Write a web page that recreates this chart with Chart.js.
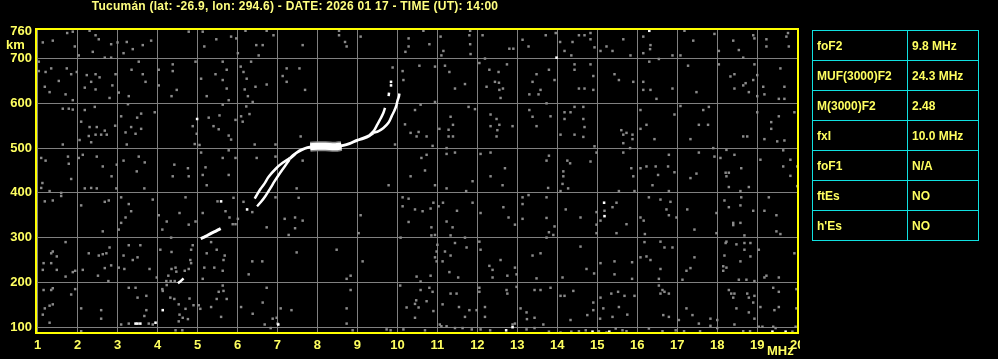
<!DOCTYPE html>
<html>
<head>
<meta charset="utf-8">
<script src="https://cdn.jsdelivr.net/npm/chart.js@4"></script>
<style>
  html, body { margin: 0; padding: 0; background: #000; }
  #wrap { position: relative; width: 998px; height: 359px; overflow: hidden; }
  #title { position: absolute; left: 0; top: -1px; width: 590px; text-align: center;
           font: bold 12px "Liberation Sans", Arial, sans-serif; color: #ffff80; letter-spacing: 0.25px; }
  #km { position: absolute; left: 6px; top: 37px; font: bold 13px "Liberation Sans", Arial, sans-serif; color: #ffff60; }
  #mhz { position: absolute; left: 767px; top: 343px; font: bold 13px "Liberation Sans", Arial, sans-serif; color: #ffff60; }
  #params { position: absolute; left: 812px; top: 30px; border-collapse: collapse; }
  #params td { border: 1px solid #10e0e0; height: 29px; padding: 0 0 0 4px;
               font: bold 12px "Liberation Sans", Arial, sans-serif; color: #ffff60; }
  #params td.k { width: 90px; }
  #params td.v { width: 66px; }
</style>
</head>
<body>
<div id="wrap">
  <canvas id="ionogram" width="998" height="359"></canvas>
  <div id="title">Tucumán (lat: -26.9, lon: 294.6) - DATE: 2026 01 17 - TIME (UT): 14:00</div>
  <div id="km">km</div>
  <div id="mhz">MHz</div>
  <table id="params"></table>
</div>
<script>
// ===============================
// DATA
// ===============================
const xTicks = [1, 2, 3, 4, 5, 6, 7, 8, 9, 10, 11, 12, 13, 14, 15, 16, 17, 18, 19, 20];
const yTicks = [100, 200, 300, 400, 500, 600, 700, 760];

const paramNames = ["foF2", "MUF(3000)F2", "M(3000)F2", "fxI", "foF1", "ftEs", "h'Es"];
const paramValues = ["9.8 MHz", "24.3 MHz", "2.48", "10.0 MHz", "N/A", "NO", "NO"];

// echo trace (MHz, km)
const traceLow = [[4.51, 198], [4.58, 203], [4.65, 209]];
const traceE = [[5.08, 298], [5.2, 303], [5.35, 310], [5.47, 315], [5.58, 320]];
const traceOA = [[6.43, 387], [6.57, 408], [6.67, 420], [6.78, 436], [6.97, 455], [7.13, 467], [7.3, 477]];
const traceOB = [[6.49, 370], [6.59, 380], [6.7, 393], [6.82, 410], [6.92, 425], [7.03, 440], [7.18, 459], [7.3, 474]];
const traceF = [[7.3, 476], [7.4, 484], [7.5, 491], [7.6, 496], [7.75, 501], [7.9, 503], [8.1, 504], [8.3, 504],
  [8.5, 504], [8.65, 506], [8.8, 510], [8.98, 517], [9.15, 522], [9.3, 528], [9.4, 534]];
const traceBlob = [[7.82, 503], [8.0, 504], [8.2, 504], [8.45, 503], [8.6, 505]];
const traceUpL = [[9.32, 530], [9.42, 540], [9.5, 553], [9.58, 566], [9.65, 579], [9.69, 590]];
const traceUpLTop = [[9.78, 616], [9.79, 624]];
const traceUpR = [[9.4, 534], [9.53, 538], [9.65, 545], [9.78, 557], [9.86, 572], [9.92, 583], [9.97, 594],
  [10.0, 605], [10.04, 616], [10.05, 622]];

const whiteDots = [[4.99, 565], [5.59, 381], [6.24, 363], [3.45, 108], [3.5, 108], [3.57, 108], [3.95, 110],
  [4.13, 138], [7.02, 106], [13.98, 702], [16.3, 762], [15.17, 378], [15.18, 348], [9.84, 640], [9.84, 648],
  [12.72, 93], [12.88, 100], [14.88, 90], [15.3, 90], [19.38, 90], [19.71, 90]];

// background noise, 1-7.3 MHz
const noiseLowF = [
  [1.74,757],[1.88,760],[1.13,736],[1.38,740],[1.93,727],[2.3,762],[2.45,752],[2.53,743],[2.38,715],[2.03,707],
  [2.84,732],[3.0,736],[3.23,737],[3.38,721],[3.15,712],[3.63,730],[3.84,740],[4.78,760],[5.13,760],[5.17,727],
  [5.47,743],[5.84,749],[5.97,745],[6.01,712],[6.2,762],[6.47,730],[6.63,730],[6.53,707],[6.73,762],[6.9,752],
  [2.68,702],[2.84,702],[1.03,693],[1.03,672],[1.2,670],[1.34,678],[1.73,678],[1.84,665],[1.98,670],[1.53,650],
  [1.18,637],[1.3,625],[1.7,620],[1.88,607],[2.23,663],[2.34,648],[2.45,665],[2.55,658],[2.18,635],[2.45,631],
  [2.87,640],[2.95,665],[2.8,612],[3.03,624],[3.35,675],[3.63,665],[3.7,648],[3.28,616],[3.53,693],[4.03,675],
  [4.03,640],[4.38,687],[4.38,672],[4.48,630],[4.35,616],[4.95,693],[5.09,655],[5.23,616],[5.45,665],[5.63,693],
  [5.73,675],[5.63,652],[5.73,633],[5.78,607],[6.08,682],[6.15,670],[6.23,655],[6.34,693],[6.45,637],[6.73,642],
  [6.18,631],[6.26,616],[6.38,603],[7.23,678],[7.23,648],[7.13,661],
  [1.63,588],[1.78,588],[1.88,586],[2.18,585],[2.43,592],[2.09,559],[2.3,547],[2.48,547],[2.68,539],[2.94,550],
  [2.28,527],[2.45,530],[2.59,530],[2.73,530],[2.05,518],[2.34,513],[3.09,571],[3.26,598],[3.49,568],[3.59,577],
  [3.34,547],[3.59,543],[3.2,535],[3.45,532],[3.23,508],[3.93,580],[4.88,549],[4.98,532],[5.28,568],[5.55,573],
  [5.4,549],[5.53,542],[5.78,528],[5.63,597],[5.95,563],[5.84,519],[6.09,571],[6.13,559],[6.3,576],[6.22,593],
  [6.43,508],[6.95,508],[4.93,509],[5.05,507],[1.63,508],
  [1.09,478],[1.2,472],[1.76,481],[1.78,465],[2.03,478],[2.13,485],[2.48,481],[2.63,459],[2.98,463],[3.15,472],
  [3.53,481],[3.68,468],[3.48,448],[2.85,437],[1.84,431],[4.42,463],[4.76,455],[4.38,437],[4.78,437],[5.09,490],
  [5.2,457],[5.13,440],[5.63,478],[5.95,478],[5.78,440],[5.78,495],[6.48,478],[6.95,481],
  [1.59,400],[1.59,393],[1.38,383],[1.18,381],[2.09,372],[2.18,410],[2.34,411],[2.48,410],[2.97,410],[2.68,380],
  [2.78,383],[3.09,390],[3.28,375],[3.2,345],[3.09,333],[3.03,318],[2.63,314],[3.34,359],[3.67,410],[3.88,385],
  [4.03,350],[4.12,318],[4.23,336],[4.34,300],[4.55,355],[4.7,390],[4.78,329],[4.95,336],[5.13,355],[5.23,417],
  [5.5,381],[5.7,359],[5.8,345],[5.88,330],[5.95,330],[5.9,389],[6.01,342],[6.15,380],[6.37,357],[6.73,323],
  [6.95,390],[7.18,342],[7.28,306],[1.12,422],[1.3,404],[1.09,411],
  [1.15,243],[1.34,265],[1.38,269],[1.48,258],[1.34,243],[1.13,228],[1.48,228],[1.7,290],[1.7,213],[1.88,223],
  [1.94,226],[2.28,265],[2.53,260],[2.63,263],[2.72,265],[2.8,278],[2.84,238],[2.68,232],[2.51,215],[2.77,203],
  [2.13,228],[3.03,233],[3.17,230],[3.15,260],[3.38,250],[3.5,256],[3.28,283],[3.57,283],[3.8,230],[3.98,211],
  [4.07,273],[4.27,215],[4.35,230],[4.35,268],[4.45,233],[4.47,224],[4.68,226],[4.84,273],[4.88,283],[4.82,250],
  [4.84,243],[4.78,230],[4.22,203],[4.33,203],[4.43,203],[5.13,208],[5.17,233],[5.34,290],[5.23,265],[5.42,233],
  [5.48,273],[5.65,250],[5.63,226],[5.68,260],[6.28,218],[6.37,247],[6.62,247],[6.73,188],
  [1.15,183],[1.34,183],[1.38,187],[1.84,173],[1.94,185],[1.3,148],[1.18,142],[1.38,151],[1.13,128],[1.3,110],
  [2.09,142],[2.59,138],[2.59,119],[3.45,188],[3.28,188],[3.5,166],[3.72,170],[3.72,138],[3.67,125],[3.28,108],
  [3.78,108],[3.88,106],[4.12,185],[4.23,194],[4.13,181],[4.42,163],[4.53,151],[4.7,141],[4.8,164],[4.9,149],
  [5.03,149],[5.07,141],[4.63,121],[4.55,128],[4.76,118],[4.53,113],[5.53,179],[5.63,193],[5.65,181],[5.48,163],
  [5.73,163],[5.34,145],[5.59,123],[6.09,145],[6.38,130],[6.63,155],[6.68,106],[6.88,119],[6.98,121],[7.0,108],
  [7.08,142],[6.83,98],[4.45,93],[4.62,93],[2.09,91],[3.09,106],[4.32,166]
];

// background noise, 7.3-13.7 MHz
const noiseMidF = [
  [7.63,730],[8.54,762],[8.54,752],[8.69,737],[8.73,727],[9.08,749],[10.28,745],[10.2,715],[10.28,727],[10.65,762],
  [10.8,732],[11.08,749],[11.1,707],[11.15,717],[11.82,762],[11.8,752],[11.82,732],[11.83,710],[12.13,752],[12.8,722],
  [12.9,722],[13.13,742],[13.28,727],
  [7.55,678],[7.69,630],[9.88,680],[10.13,672],[10.15,652],[10.55,684],[10.94,682],[11.19,684],[11.3,670],[11.44,633],
  [11.69,643],[12.05,690],[12.19,700],[12.3,675],[12.53,670],[12.74,687],[12.44,648],[12.54,646],[12.64,633],[12.23,637],
  [12.55,630],[12.58,612],[13.3,620],[13.48,665],[13.38,648],[13.58,630],[13.53,620],
  [10.44,585],[10.58,597],[10.19,553],[10.33,534],[10.53,536],[10.48,526],[10.73,526],[10.88,505],[10.94,603],[11.05,543],
  [11.28,541],[11.39,552],[11.28,526],[11.39,526],[11.33,570],[11.78,592],[11.94,587],[12.33,575],[12.48,565],[12.55,552],
  [12.33,549],[12.5,540],[12.48,526],[12.88,549],[13.3,585],[13.38,570],[13.48,549],[7.58,526],[9.94,508],
  [7.63,472],[10.33,437],[10.6,478],[10.73,485],[10.69,450],[11.23,487],[11.44,490],[11.23,500],[12.08,487],[12.33,490],
  [12.69,455],[12.33,437],
  [7.48,410],[7.53,389],[7.44,345],[7.63,338],[7.44,321],[7.48,267],[8.48,273],[9.08,350],[9.03,310],[9.13,247],
  [8.83,215],[8.73,208],[8.83,183],[8.73,142],[8.73,108],[7.35,138],[8.88,93],[9.78,417],[10.13,390],[10.13,370],
  [10.28,387],[10.44,363],[10.63,359],[10.83,365],[10.9,378],[11.03,370],[11.14,378],[10.94,417],[11.23,410],[11.72,404],
  [11.88,378],[11.49,360],[11.23,336],[11.38,323],[10.85,323],[10.85,305],[10.94,306],[10.28,335],[10.08,300],[11.0,284],
  [10.98,269],[10.94,256],[10.98,247],[11.13,247],[11.19,269],[11.33,305],[11.33,260],[11.44,288],[11.69,300],[11.73,278],
  [12.08,355],[12.05,291],[12.08,273],[12.65,368],[12.78,345],[12.94,329],[13.13,390],[13.13,375],[13.13,342],[13.28,395],
  [12.63,417],[11.88,426],[12.58,250],[12.3,237],[12.38,228],[12.38,211],[12.75,215],[12.94,233],[12.98,218],[13.38,260],
  [13.58,265],[13.48,209],
  [10.48,213],[10.58,202],[10.07,193],[10.83,215],[11.3,223],[11.52,211],[10.58,183],[10.8,188],[10.88,179],[10.47,160],
  [10.73,158],[10.44,152],[10.23,144],[10.53,144],[10.9,136],[10.44,121],[11.13,151],[11.33,175],[11.48,175],[11.54,145],
  [11.69,123],[11.8,138],[11.98,138],[12.05,188],[12.05,179],[12.19,145],[12.19,123],[12.73,183],[12.75,175],[12.94,108],
  [12.98,190],[13.08,142],[13.23,133],[13.24,118],[13.43,121],[13.43,183],[13.58,183],[13.65,106],
  [11.06,106],[11.1,102],[11.23,102],[11.44,98],[11.63,98],[11.86,95],[12.08,95],[12.32,93],[12.88,106],[13.23,95],
  [13.43,98],[9.83,93],[10.15,95],[10.69,93],[9.73,95]
];

// background noise, 13.7-20 MHz
const noiseHighF = [
  [13.71,752],[13.96,757],[14.07,737],[14.38,737],[14.54,752],[14.68,752],[14.83,757],[14.83,743],[14.93,725],[14.18,717],
  [14.35,707],[15.08,717],[15.23,727],[15.38,717],[15.65,743],[15.83,707],[16.15,749],[16.33,730],[16.32,721],[16.15,712],
  [16.88,707],[17.08,707],[17.18,762],[17.4,740],[17.93,755],[18.04,717],[18.4,740],[18.54,719],[18.65,702],[18.9,752],
  [18.93,745],[19.23,743],[19.23,727],[19.77,757],[19.73,749],[19.79,727],
  [13.79,675],[13.93,652],[14.43,687],[14.43,675],[14.83,687],[14.9,661],[14.54,633],[14.68,633],[14.9,630],[15.43,665],
  [15.54,652],[15.9,648],[16.15,648],[16.15,630],[16.33,630],[16.48,610],[16.3,693],[16.54,699],[16.88,633],[17.27,684],
  [17.48,625],[18.04,687],[18.33,660],[18.43,665],[18.43,633],[18.65,640],[18.71,645],[18.79,625],[18.93,687],[18.9,652],
  [19.0,663],[19.0,616],[19.15,637],[19.18,620],[19.58,678],[19.68,637],[19.54,610],[19.68,610],
  [13.73,600],[13.83,571],[14.18,580],[14.18,565],[14.33,580],[14.43,592],[14.65,592],[14.65,565],[14.68,547],[14.08,530],
  [14.43,530],[14.65,525],[14.93,504],[15.6,540],[15.73,534],[15.65,530],[15.88,530],[15.88,520],[15.65,511],[15.82,500],
  [16.08,585],[16.08,543],[16.23,552],[16.43,520],[16.93,575],[17.08,594],[17.33,520],[17.54,552],[17.77,552],[17.65,585],
  [17.79,592],[18.65,526],[18.75,526],[19.0,580],[19.18,520],[19.35,558],[19.35,543],[19.54,571],[19.5,515],[19.68,517],
  [19.93,580],
  [13.79,483],[13.73,472],[14.25,472],[14.32,466],[14.15,448],[14.15,437],[14.83,470],[14.98,490],[15.65,490],[15.85,455],
  [15.9,437],[16.08,455],[16.23,459],[16.46,459],[16.77,459],[16.52,440],[16.93,446],[16.79,485],[17.54,490],[17.33,433],
  [17.48,443],[17.9,500],[17.93,481],[18.08,478],[18.23,496],[18.43,485],[18.6,455],[18.21,445],[18.29,445],[18.23,437],
  [19.08,474],[19.65,495],[19.65,459],[19.83,474],[19.83,438],[20.0,459],
  [14.13,420],[14.27,410],[13.77,411],[14.08,404],[13.73,390],[14.21,363],[13.73,344],[13.93,325],[13.9,306],[13.79,312],
  [14.58,345],[15.18,360],[15.08,338],[14.98,357],[15.38,368],[15.48,378],[15.73,330],[15.48,310],[14.98,329],[14.98,310],
  [15.54,404],[15.93,404],[16.38,417],[16.29,390],[16.58,385],[16.83,380],[16.73,363],[16.79,350],[16.08,345],[16.16,338],
  [16.19,308],[16.79,404],[17.25,363],[17.43,318],[16.98,345],[17.98,355],[18.18,383],[18.29,368],[18.58,372],[18.58,333],
  [18.4,333],[18.4,328],[18.68,305],[18.6,390],[18.29,413],[18.79,413],[18.58,404],[18.9,360],[19.18,360],[19.29,390],
  [19.48,350],[19.48,314],[19.58,308],[20.0,415],
  [13.73,300],[14.58,280],[14.13,211],[14.73,230],[14.92,220],[15.08,243],[15.43,247],[15.43,218],[15.87,245],[15.87,208],
  [16.18,290],[16.23,258],[16.33,250],[16.08,256],[16.58,291],[16.68,278],[16.88,278],[16.58,230],[16.54,208],[17.13,206],
  [17.23,226],[17.33,232],[17.43,256],[17.98,310],[18.21,288],[18.23,291],[18.48,285],[18.68,288],[18.83,288],[18.68,273],
  [18.83,258],[18.18,260],[18.15,236],[18.23,233],[18.15,226],[18.58,247],[18.54,206],[18.73,206],[18.93,203],[19.04,273],
  [19.23,215],[19.18,211],[19.54,211],[19.93,265],
  [13.83,188],[14.08,170],[14.18,170],[14.4,181],[14.9,155],[14.9,138],[14.75,127],[14.33,116],[15.08,166],[15.15,142],
  [15.35,175],[15.52,179],[15.68,170],[15.93,170],[15.54,145],[15.75,128],[15.38,123],[15.07,119],[16.54,193],[16.63,183],
  [16.68,179],[16.79,175],[16.58,175],[16.65,127],[16.79,123],[17.23,142],[17.38,127],[17.04,116],[17.54,108],[17.83,119],
  [18.0,116],[18.29,183],[18.35,175],[18.43,175],[18.4,166],[18.75,175],[18.79,166],[18.9,155],[18.93,170],[18.48,142],
  [18.79,133],[18.93,119],[19.08,145],[19.4,188],[19.54,179],[19.54,145],[19.43,138],[19.98,185],[19.98,142],[18.43,106],
  [19.04,101],[19.13,101],[19.4,101],[19.96,101],
  [13.79,90],[14.08,88],[14.35,90],[14.54,91],[14.71,93],[15.04,91],[15.23,88],[15.46,97],[15.63,93],[15.73,91],
  [16.29,97],[16.63,91],[16.96,93],[17.17,91],[17.57,91],[17.83,103],[18.0,98],[18.65,91],[18.82,91],[19.88,90],
  [19.46,98]
];

// ===============================
// PARAMETER TABLE
// ===============================
document.getElementById("params").innerHTML = paramNames
  .map((n, i) => `<tr><td class="k">${n}</td><td class="v">${paramValues[i]}</td></tr>`)
  .join("");

// ===============================
// HELPERS
// ===============================
const toXY = arr => arr.map(p => ({ x: p[0], y: p[1] }));

function traceLine(data, width, color, order) {
  return {
    type: "line",
    data: toXY(data),
    borderColor: color || "#ffffff",
    borderWidth: width,
    pointRadius: 0,
    tension: 0.35,
    fill: false,
    order: order || 1
  };
}

const framePlugin = {
  id: "frame",
  afterDraw(chart) {
    const { ctx, chartArea } = chart;
    ctx.save();
    ctx.fillStyle = "#000";
    ctx.fillRect(800, chartArea.bottom + 2, 198, 30);
    ctx.strokeStyle = "#ffff00";
    ctx.lineWidth = 2;
    ctx.strokeRect(chartArea.left, chartArea.top, chartArea.right - chartArea.left, chartArea.bottom - chartArea.top);
    ctx.restore();
  }
};

// ===============================
// CHART
// ===============================
const tickFont = { family: "'Liberation Sans', Arial, sans-serif", size: 13, weight: "bold" };

new Chart(document.getElementById("ionogram"), {
  type: "scatter",
  data: {
    datasets: [
      {
        data: toXY([...noiseLowF, ...noiseMidF, ...noiseHighF]),
        pointStyle: "rect",
        pointRadius: 1.75,
        pointBorderWidth: 0,
        backgroundColor: "#8a8a8a",
        order: 6
      },
      {
        data: toXY(whiteDots),
        pointStyle: "rect",
        pointRadius: 1.8,
        pointBorderWidth: 0,
        backgroundColor: "#ffffff",
        order: 2
      },
      traceLine(traceBlob, 10, "#8a8a8a", 4),
      traceLine(traceBlob, 7),
      traceLine(traceLow, 2.5),
      traceLine(traceE, 3),
      traceLine(traceOA, 2.5),
      traceLine(traceOB, 2.5),
      traceLine(traceF, 3),
      traceLine(traceUpL, 2.5),
      traceLine(traceUpLTop, 2.5),
      traceLine(traceUpR, 2.5)
    ]
  },
  options: {
    responsive: false,
    animation: false,
    devicePixelRatio: 1,
    layout: { padding: { top: 29, right: 200, left: 0, bottom: 0 } },
    plugins: { legend: { display: false }, tooltip: { enabled: false } },
    scales: {
      x: {
        type: "linear",
        min: 0.96,
        max: 20.02,
        afterBuildTicks: scale => { scale.ticks = xTicks.map(v => ({ value: v })); },
        afterFit: scale => { scale.height = 26; },
        grid: { color: "#808080", lineWidth: 1, drawTicks: false, tickLength: 0 },
        border: { display: false },
        ticks: { color: "#ffff60", font: tickFont, padding: 5, maxRotation: 0, autoSkip: false }
      },
      y: {
        type: "linear",
        min: 87,
        max: 766,
        afterBuildTicks: scale => { scale.ticks = yTicks.map(v => ({ value: v })); },
        afterFit: scale => { scale.width = 36; },
        grid: {
          color: c => (c.tick && c.tick.value === 760 ? "rgba(0,0,0,0)" : "#808080"),
          lineWidth: 1,
          drawTicks: false,
          tickLength: 0
        },
        border: { display: false },
        ticks: { color: "#ffff60", font: tickFont, padding: 4, autoSkip: false }
      }
    }
  },
  plugins: [framePlugin]
});
</script>
</body>
</html>
